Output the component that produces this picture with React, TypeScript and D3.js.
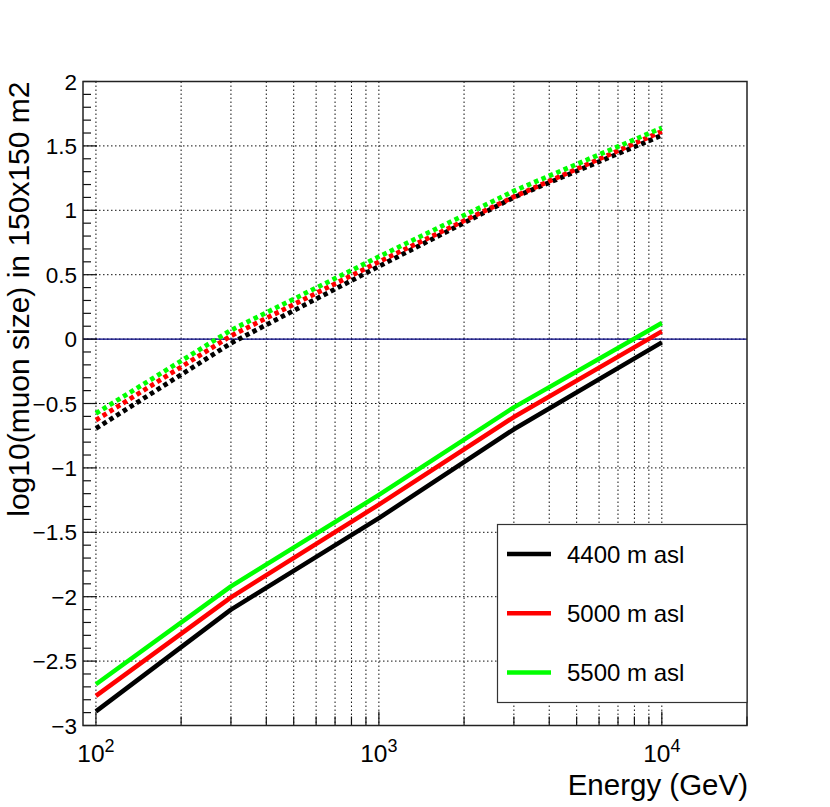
import * as d3 from 'd3';
import React, { useEffect, useRef } from 'react';

// energies (GeV) where the curves were sampled
const energies = [100, 300, 1000, 3000, 10000];

// solid curves
const solid4400 = [-2.89, -2.1, -1.39, -0.7, -0.025];
const solid5000 = [-2.77, -2.005, -1.285, -0.605, 0.06];
const solid5500 = [-2.68, -1.92, -1.21, -0.53, 0.125];

// dotted curves
const dotted4400 = [-0.694, -0.032, 0.565, 1.1, 1.582];
const dotted5000 = [-0.629, 0.025, 0.6, 1.105, 1.613];
const dotted5500 = [-0.577, 0.069, 0.64, 1.15, 1.64];

const legendLabels = ['4400 m asl', '5000 m asl', '5500 m asl'];
const seriesColors = ['#000000', '#ff0000', '#00ff00'];

const yTickValues = [-3, -2.5, -2, -1.5, -1, -0.5, 0, 0.5, 1, 1.5, 2];
const yTickLabels = ['\u22123', '\u22122.5', '\u22122', '\u22121.5', '\u22121', '\u22120.5', '0', '0.5', '1', '1.5', '2'];
const xDecades = [100, 1000, 10000];
const xDecadeExponents = ['2', '3', '4'];

const xTitle = 'Energy (GeV)';
const yTitle = 'log10(muon size) in 150x150 m2';

const W = 830;
const H = 807;
const FONT = '"Liberation Sans", Arial, Helvetica, sans-serif';

export default function App() {
  const svgRef = useRef<SVGSVGElement>(null);

  useEffect(() => {
    if (!svgRef.current) return;
    const svg = d3.select(svgRef.current);
    svg.selectAll('*').remove();

    const frame = { left: 83, right: 747, top: 81.5, bottom: 725.5 };

    const x = d3.scaleLog().domain([90, 20000]).range([frame.left, frame.right]);
    const y = d3.scaleLinear().domain([-3, 2]).range([frame.bottom, frame.top]);

    svg.append('rect').attr('width', W).attr('height', H).attr('fill', '#fff');

    // grid: x at every log tick, y at every major tick
    const xGrid: number[] = [];
    for (const dec of [100, 1000]) for (let k = 1; k <= 9; k++) xGrid.push(dec * k);
    xGrid.push(10000);

    const grid = svg.append('g').attr('stroke', '#111').attr('stroke-width', 1).attr('stroke-dasharray', '1.5 2.5');
    grid.selectAll('line.gx')
      .data(xGrid)
      .join('line')
      .attr('class', 'gx')
      .attr('x1', d => x(d)).attr('x2', d => x(d))
      .attr('y1', frame.top).attr('y2', frame.bottom);
    grid.selectAll('line.gy')
      .data(yTickValues.filter(v => v > -3 && v < 2))
      .join('line')
      .attr('class', 'gy')
      .attr('x1', frame.left).attr('x2', frame.right)
      .attr('y1', d => y(d)).attr('y2', d => y(d));

    // zero line
    svg.append('line')
      .attr('x1', frame.left).attr('x2', frame.right)
      .attr('y1', y(0)).attr('y2', y(0))
      .attr('stroke', '#000080').attr('stroke-width', 1.3);

    // ticks
    const ticks = svg.append('g').attr('stroke', '#111').attr('stroke-width', 1.2);
    const yMinor = d3.range(-30, 21).map(i => i / 10).filter(v => Math.abs(v * 2 - Math.round(v * 2)) > 1e-6);
    ticks.selectAll('line.ym')
      .data(yMinor)
      .join('line')
      .attr('class', 'ym')
      .attr('x1', frame.left).attr('x2', frame.left + 8)
      .attr('y1', d => y(d)).attr('y2', d => y(d));
    ticks.selectAll('line.yM')
      .data(yTickValues)
      .join('line')
      .attr('class', 'yM')
      .attr('x1', frame.left).attr('x2', frame.left + 14)
      .attr('y1', d => y(d)).attr('y2', d => y(d));
    const xMinor = xGrid.concat([20000]).filter(v => !xDecades.includes(v));
    ticks.selectAll('line.xm')
      .data(xMinor)
      .join('line')
      .attr('class', 'xm')
      .attr('x1', d => x(d)).attr('x2', d => x(d))
      .attr('y1', frame.bottom).attr('y2', frame.bottom - 9);
    ticks.selectAll('line.xM')
      .data(xDecades)
      .join('line')
      .attr('class', 'xM')
      .attr('x1', d => x(d)).attr('x2', d => x(d))
      .attr('y1', frame.bottom).attr('y2', frame.bottom - 14);

    // curves
    const line = d3.line<number>()
      .x((_, i) => x(energies[i]))
      .y(d => y(d));

    const dotted = [dotted4400, dotted5000, dotted5500];
    const solid = [solid4400, solid5000, solid5500];

    dotted.forEach((vals, i) => {
      svg.append('path')
        .attr('d', line(vals))
        .attr('fill', 'none')
        .attr('stroke', seriesColors[i])
        .attr('stroke-width', 4.8)
        .attr('stroke-dasharray', '4.5 3.5');
    });
    solid.forEach((vals, i) => {
      svg.append('path')
        .attr('d', line(vals))
        .attr('fill', 'none')
        .attr('stroke', seriesColors[i])
        .attr('stroke-width', 4.5)
        .attr('stroke-linejoin', 'round');
    });

    // frame
    svg.append('rect')
      .attr('x', frame.left).attr('y', frame.top)
      .attr('width', frame.right - frame.left)
      .attr('height', frame.bottom - frame.top)
      .attr('fill', 'none')
      .attr('stroke', '#222')
      .attr('stroke-width', 1.5);

    // y tick labels
    svg.append('g')
      .selectAll('text')
      .data(yTickValues)
      .join('text')
      .attr('x', 77)
      .attr('y', d => y(d) + 8)
      .attr('text-anchor', 'end')
      .attr('font-family', FONT)
      .attr('font-size', 22.5)
      .text((_, i) => yTickLabels[i]);

    // x tick labels (10^n)
    const xl = svg.append('g')
      .selectAll('text')
      .data(xDecades)
      .join('text')
      .attr('x', d => x(d))
      .attr('y', 762)
      .attr('text-anchor', 'middle')
      .attr('font-family', FONT)
      .attr('font-size', 24.5);
    xl.append('tspan').text('10');
    xl.append('tspan')
      .attr('dy', -10)
      .attr('font-size', 18)
      .text((_, i) => xDecadeExponents[i]);

    // axis titles
    svg.append('text')
      .attr('x', 748)
      .attr('y', 794.5)
      .attr('text-anchor', 'end')
      .attr('font-family', FONT)
      .attr('font-size', 29.5)
      .text(xTitle);

    svg.append('text')
      .attr('transform', 'translate(29,81.5) rotate(-90)')
      .attr('text-anchor', 'end')
      .attr('font-family', FONT)
      .attr('font-size', 30)
      .text(yTitle);

    // legend
    const lg = { x0: 497.5, x1: 747, y0: 524.5, y1: 702.5 };
    svg.append('rect')
      .attr('x', lg.x0).attr('y', lg.y0)
      .attr('width', lg.x1 - lg.x0).attr('height', lg.y1 - lg.y0)
      .attr('fill', '#fff')
      .attr('stroke', '#333')
      .attr('stroke-width', 1.2);

    const rowY = d3.scalePoint<string>().domain(legendLabels).range([554, 672.5]);
    const rows = svg.append('g')
      .selectAll('g')
      .data(legendLabels)
      .join('g')
      .attr('transform', d => `translate(0,${rowY(d)})`);
    rows.append('line')
      .attr('x1', 507).attr('x2', 551)
      .attr('stroke', (_, i) => seriesColors[i])
      .attr('stroke-width', 4.5);
    rows.append('text')
      .attr('x', 567)
      .attr('y', 8.5)
      .attr('font-family', FONT)
      .attr('font-size', 24)
      .text(d => d);
  }, []);

  return (
    <svg
      ref={svgRef}
      width={W}
      height={H}
      style={{ position: 'absolute', left: 0, top: 0 }}
    />
  );
}
